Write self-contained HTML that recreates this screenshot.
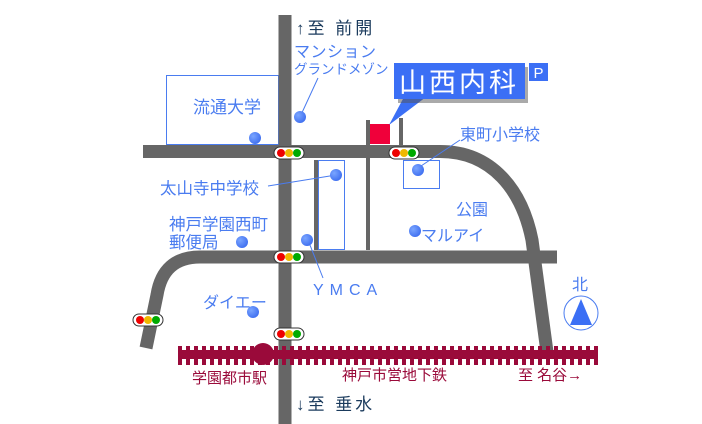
<!DOCTYPE html>
<html><head><meta charset="utf-8"><style>
html,body{margin:0;padding:0;background:#fff;}
svg{display:block;}
text{font-family:"Liberation Sans","Noto Sans CJK JP",sans-serif;}
.b{fill:#4a7cf0;}
.d{fill:#1a3a5c;font-size:17px;}
.r{fill:#9a0a3a;font-size:15px;}
</style></head><body>
<svg width="702" height="424" viewBox="0 0 702 424" xmlns="http://www.w3.org/2000/svg">
<defs>
<pattern id="ties" x="178" y="0" width="8" height="424" patternUnits="userSpaceOnUse">
<rect x="0" y="346" width="4" height="19" fill="#9a0a3a"/>
</pattern>
<radialGradient id="dot" cx="0.35" cy="0.35" r="0.7"><stop offset="0" stop-color="#7aa5ff"/><stop offset="1" stop-color="#3f6ff0"/></radialGradient>
<g id="tl">
<rect x="-15" y="-6" width="30" height="12" rx="6" fill="#fff" stroke="#333"/>
<circle cx="-8" cy="0" r="4" fill="#e00"/><circle cx="0" cy="0" r="4" fill="#f0b800"/><circle cx="8" cy="0" r="4" fill="#0a0"/>
</g>
</defs>
<!-- boxes -->
<rect x="166.5" y="75.5" width="112" height="69" fill="none" stroke="#4a7cf0"/>
<rect x="318.5" y="160.5" width="26" height="89" fill="none" stroke="#4a7cf0"/>
<rect x="403.5" y="160.5" width="36" height="28" fill="none" stroke="#4a7cf0"/>
<!-- roads -->
<g fill="none" stroke="#666" stroke-width="13">
<path d="M285,15 V424"/>
<path d="M143,151.5 H440 C492,151.5 522,190 532,240 L547,352"/>
<path d="M557,257 H200 Q163,257 157,295 L146,348"/>
</g>
<g fill="none" stroke="#666" stroke-width="4">
<path d="M316,160 V250"/>
<path d="M368,120 V250"/>
<path d="M401,118 V146"/>
</g>
<!-- railway -->
<rect x="178" y="350" width="420" height="9" fill="#9a0a3a"/>
<rect x="178" y="346" width="420" height="19" fill="url(#ties)"/>
<circle cx="263" cy="354" r="11" fill="#9a0a3a"/>
<use href="#tl" x="289" y="153"/>
<use href="#tl" x="404" y="153"/>
<use href="#tl" x="289" y="257"/>
<use href="#tl" x="148" y="320"/>
<use href="#tl" x="289" y="334"/>
<!-- leader lines -->
<g stroke="#4a7cf0" stroke-width="1">
<line x1="300" y1="117" x2="318" y2="78"/>
<line x1="268" y1="186" x2="336" y2="175"/>
<line x1="418" y1="168" x2="460" y2="140"/>
<line x1="308" y1="240" x2="323" y2="278"/>
</g>
<g fill="url(#dot)">
<circle cx="255" cy="138" r="6"/><circle cx="300" cy="117" r="6"/><circle cx="336" cy="175" r="6"/>
<circle cx="242" cy="242" r="6"/><circle cx="307" cy="240" r="6"/><circle cx="418" cy="170" r="6"/>
<circle cx="415" cy="231" r="6"/><circle cx="253" cy="312" r="6"/>
</g>
<!-- hospital -->
<rect x="370" y="124" width="20" height="20" fill="#f0003a"/>
<polygon points="404,97 426,97 389,125" fill="#3b6ff5"/>
<rect x="398" y="67" width="130" height="36" fill="#555" opacity="0.5"/>
<rect x="394" y="63" width="131" height="36" fill="#3b6ff5"/>
<text x="459" y="92" text-anchor="middle" fill="#fff" font-size="27" letter-spacing="3">山西内科</text>
<rect x="529" y="63" width="19" height="18" fill="#3b6ff5"/>
<text x="538.5" y="78" text-anchor="middle" fill="#fff" font-size="15">P</text>
<!-- labels -->
<text class="d" x="296" y="34" letter-spacing="3">↑至 前開</text>
<text class="d" x="296" y="410" letter-spacing="3">↓至 垂水</text>
<text class="b" x="294" y="57" font-size="16" letter-spacing="0.5">マンション</text>
<text class="b" x="294" y="74" font-size="13.5">グランドメゾン</text>
<text class="b" x="193" y="113" font-size="17">流通大学</text>
<text class="b" x="160" y="194" font-size="16.5">太山寺中学校</text>
<text class="b" x="169" y="230" font-size="16.5">神戸学園西町</text>
<text class="b" x="169" y="248" font-size="16.5">郵便局</text>
<text class="b" x="313" y="295" font-size="16" letter-spacing="6">YMCA</text>
<text class="b" x="203" y="308" font-size="16">ダイエー</text>
<text class="b" x="460" y="140" font-size="16">東町小学校</text>
<text class="b" x="456" y="215" font-size="16">公園</text>
<text class="b" x="421" y="241" font-size="16">マルアイ</text>
<text class="b" x="572" y="290" font-size="16" fill="#3060e0">北</text>
<circle cx="581" cy="313" r="17" fill="none" stroke="#4a7cf0"/>
<polygon points="581,299 570,325 592,325" fill="#3b6ff5"/>
<text class="r" x="192" y="383">学園都市駅</text>
<text class="r" x="342" y="380">神戸市営地下鉄</text>
<text class="r" x="518" y="380">至 名谷→</text>
</svg>
</body></html>
